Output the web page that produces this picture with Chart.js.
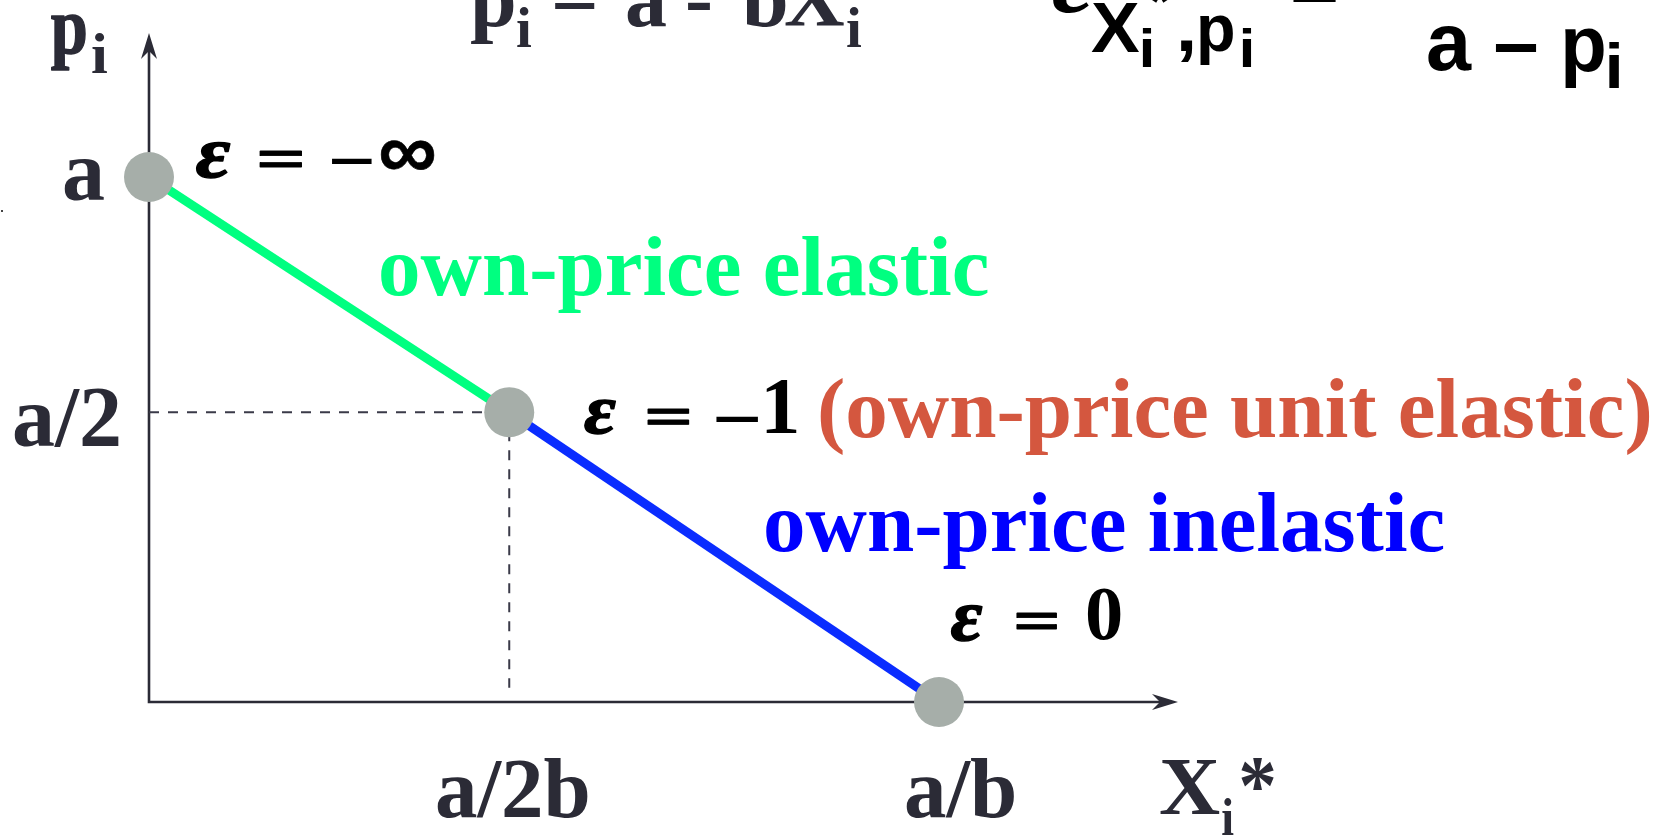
<!DOCTYPE html>
<html>
<head>
<meta charset="utf-8">
<script src="https://cdn.jsdelivr.net/npm/chart.js@4.4.1/dist/chart.umd.min.js"></script>
<style>
html,body{margin:0;padding:0;background:#ffffff;overflow:hidden}
#wrap{width:1669px;height:836px;position:relative}
canvas{display:block}
</style>
</head>
<body>
<div id="wrap"><canvas id="c" width="1669" height="836"></canvas></div>
<script>
// ---------------- data (a/b = 1, a = 1) ----------------
const elasticX   = [0, 0.456];        // elastic segment: from p = a down to the unit-elastic point
const elasticY   = [1, 0.552];
const inelasticX = [0.456, 1];        // inelastic segment: unit-elastic point down to X = a/b
const inelasticY = [0.552, 0];
const pointX     = [0, 0.456, 1];     // marked points
const pointY     = [1, 0.552, 0];
const guideHX    = [0, 0.456];        // dashed guide to the price axis
const guideHY    = [0.552, 0.552];
const guideVX    = [0.456, 0.456];    // dashed guide to the quantity axis
const guideVY    = [0.552, 0.027];
const xTickValues = [0.456, 1];
const xTickLabels = ['a/2b', 'a/b'];
const yTickValues = [1, 0.552];
const yTickLabels = ['a', 'a/2'];
const xAxisMax = 1.3025;
const yAxisMax = 1.2743;

const zip = (xs, ys) => xs.map((x, i) => ({x: x, y: ys[i]}));

// ---------------- styles ----------------
const INK = '#2b2b36';
const GREEN = '#00FF80';
const BLUE_LINE = '#0A2CFF';
const BLUE_TEXT = '#0000FF';
const ORANGE = '#D4573F';
const DOT = '#A6AEA9';

const serifB  = s => `bold ${s}px "Liberation Serif"`;
const serifBI = s => `bold italic ${s}px "Liberation Serif"`;
const sansB   = s => `bold ${s}px "Liberation Sans"`;

// text helpers (all real text)
function inkText(ctx, s, x, baseline, fontStr, color, align, sx) {
  sx = sx || 1;
  ctx.save();
  ctx.font = fontStr;
  ctx.textAlign = 'left';
  ctx.textBaseline = 'alphabetic';
  const m = ctx.measureText(s);
  const iw = (m.actualBoundingBoxLeft + m.actualBoundingBoxRight) * sx;
  let left = x;
  if (align === 'right') left = x - iw;
  else if (align === 'center') left = x - iw / 2;
  ctx.translate(left + m.actualBoundingBoxLeft * sx, baseline);
  ctx.scale(sx, 1);
  ctx.fillStyle = color;
  ctx.fillText(s, 0, 0);
  ctx.restore();
}
// fit the ink of a string into a box (optionally thickened by a stroke)
function boxText(ctx, s, left, top, w, h, fontFn, color, keepAspect, stroke) {
  stroke = stroke || 0;
  ctx.save();
  ctx.textAlign = 'left';
  ctx.textBaseline = 'alphabetic';
  ctx.font = fontFn(100);
  let m = ctx.measureText(s);
  const ih0 = m.actualBoundingBoxAscent + m.actualBoundingBoxDescent;
  const F = 100 * (h - stroke) / ih0;
  ctx.font = fontFn(F);
  m = ctx.measureText(s);
  const iw = m.actualBoundingBoxLeft + m.actualBoundingBoxRight;
  const sx = keepAspect ? 1 : (w - stroke) / iw;
  ctx.translate(left + stroke / 2 + m.actualBoundingBoxLeft * sx, top + stroke / 2 + m.actualBoundingBoxAscent);
  ctx.scale(sx, 1);
  ctx.fillStyle = color;
  ctx.fillText(s, 0, 0);
  if (stroke > 0) {
    ctx.strokeStyle = color;
    ctx.lineWidth = stroke / sx;
    ctx.lineJoin = 'round';
    ctx.strokeText(s, 0, 0);
  }
  ctx.restore();
}
// place ink bottom at a given y
function bottomText(ctx, s, left, bottom, fontStr, color) {
  ctx.save();
  ctx.font = fontStr;
  ctx.textAlign = 'left';
  ctx.textBaseline = 'alphabetic';
  const m = ctx.measureText(s);
  ctx.fillStyle = color;
  ctx.fillText(s, left + m.actualBoundingBoxLeft, bottom - m.actualBoundingBoxDescent);
  ctx.restore();
}

// ---------------- plugins ----------------
const axesPlugin = {
  id: 'axesArrows',
  beforeDatasetsDraw(chart) {
    const {ctx, scales: {x, y}} = chart;
    const x0 = x.getPixelForValue(0), y0 = y.getPixelForValue(0);
    const xe = x.getPixelForValue(x.max), ye = y.getPixelForValue(y.max);
    ctx.save();
    ctx.strokeStyle = INK;
    ctx.fillStyle = INK;
    ctx.lineWidth = 2.6;
    ctx.beginPath();
    ctx.moveTo(x0, y0); ctx.lineTo(xe - 12, y0);
    ctx.moveTo(x0, y0 + 1.3); ctx.lineTo(x0, ye + 12);
    ctx.stroke();
    // x arrow
    ctx.beginPath();
    ctx.moveTo(xe, y0);
    ctx.lineTo(xe - 26, y0 - 8);
    ctx.lineTo(xe - 18, y0);
    ctx.lineTo(xe - 26, y0 + 8);
    ctx.closePath(); ctx.fill();
    // y arrow
    ctx.beginPath();
    ctx.moveTo(x0, ye);
    ctx.lineTo(x0 - 8, ye + 26);
    ctx.lineTo(x0, ye + 18);
    ctx.lineTo(x0 + 8, ye + 26);
    ctx.closePath(); ctx.fill();
    ctx.restore();
  }
};

const labelsPlugin = {
  id: 'labels',
  afterDatasetsDraw(chart) {
    const {ctx, scales: {x, y}} = chart;
    const px = v => x.getPixelForValue(v);
    const py = v => y.getPixelForValue(v);

    // tick labels, anchored to the scales
    const yOff = [{dx: -45, dy: 23}, {dx: -30, dy: 34}];
    yTickValues.forEach((v, i) => {
      inkText(ctx, yTickLabels[i], px(0) + yOff[i].dx, py(v) + yOff[i].dy, serifB(86), INK, 'right');
    });
    const xOff = [{dx: 3}, {dx: 21}];
    xTickValues.forEach((v, i) => {
      inkText(ctx, xTickLabels[i], px(v) + xOff[i].dx, py(0) + 115, serifB(85), INK, 'center');
    });

    // axis titles
    boxText(ctx, 'p', px(0) - 98, 14, 35, 57, serifB, INK, false, 1.2);
    boxText(ctx, 'i', px(0) - 57, 33, 15, 39, serifB, INK);
    boxText(ctx, 'X', 1160, 760, 60, 55, serifB, INK);
    boxText(ctx, 'i', 1222, 798, 12, 37, serifB, INK);
    boxText(ctx, '*', 1241, 758, 33, 32, serifB, INK);

    // region labels
    inkText(ctx, 'own-price elastic', 381, 295, serifB(85), GREEN, 'left');
    inkText(ctx, 'own-price inelastic', 766, 551, serifB(85), BLUE_TEXT, 'left');
    inkText(ctx, '(own-price unit elastic)', 820, 437, serifB(85), ORANGE, 'left');

    // elasticity labels near the points
    const eA = {x: px(pointX[0]) + 46, y: py(pointY[0])};
    boxText(ctx, 'ε', eA.x, eA.y - 36, 36, 37, serifBI, '#000', false, 1.6);
    boxText(ctx, '=', eA.x + 63, eA.y - 27, 45, 18, sansB, '#000', false, 1.6);
    boxText(ctx, '−', eA.x + 137, eA.y - 19, 41, 6, sansB, '#000');
    boxText(ctx, '∞', eA.x + 185, eA.y - 37, 55, 31, sansB, '#000', false, 0.6);

    const eM = {x: px(pointX[1]) + 74, y: py(pointY[1]) + 21};
    boxText(ctx, 'ε', eM.x, eM.y - 34, 34, 35, serifBI, '#000', false, 1.6);
    boxText(ctx, '=', eM.x + 63, eM.y - 25, 43, 17, sansB, '#000', false, 1.6);
    boxText(ctx, '−', eM.x + 133, eM.y - 17, 43, 6, sansB, '#000');
    boxText(ctx, '1', eM.x + 183, eM.y - 53, 30, 53, serifB, '#000', true);

    const eZ = {x: px(pointX[2]) + 11, y: py(pointY[2]) - 62};
    boxText(ctx, 'ε', eZ.x, eZ.y - 36, 33, 37, serifBI, '#000', false, 1.6);
    boxText(ctx, '=', eZ.x + 65, eZ.y - 28, 43, 18, sansB, '#000', false, 1.6);
    boxText(ctx, '0', eZ.x + 137, eZ.y - 52, 36, 52, serifB, '#000', true);

    // headings cut by the top edge of the picture
    inkText(ctx, 'p', 471, 26, serifB(84), INK, 'left');
    inkText(ctx, 'i', 517, 47, serifB(57), INK, 'left');
    inkText(ctx, '=', 555, 26, serifB(84), INK, 'left');
    inkText(ctx, 'a', 627, 26, serifB(84), INK, 'left');
    inkText(ctx, '-', 688, 26, serifB(84), INK, 'left');
    inkText(ctx, 'b', 743, 26, serifB(84), INK, 'left');
    inkText(ctx, 'X', 785, 26, serifB(84), INK, 'left');
    inkText(ctx, 'i', 847, 47, serifB(57), INK, 'left');

    bottomText(ctx, 'ε', 1053, 13, serifBI(100), '#000');
    boxText(ctx, 'X', 1091, 3, 49, 49, sansB, '#000');
    bottomText(ctx, '*', 1150, 3, sansB(50), '#000');
    boxText(ctx, 'i', 1142, 28, 10, 39, sansB, '#000');
    boxText(ctx, ',', 1180, 40, 12, 22, sansB, '#000');
    boxText(ctx, 'p', 1200, 15, 33, 50, sansB, '#000');
    boxText(ctx, 'i', 1242, 28, 10, 39, sansB, '#000');
    bottomText(ctx, '=', 1293, 2, sansB(84), '#000');

    inkText(ctx, 'a –', 1428, 70, sansB(81), '#000', 'left');
    boxText(ctx, 'p', 1565, 28, 39, 60, sansB, '#000');
    boxText(ctx, 'i', 1609, 42, 11, 46, sansB, '#000');

    // small speck at the left edge
    ctx.save(); ctx.fillStyle = '#444'; ctx.fillRect(1, 210, 2, 2); ctx.restore();
  }
};

// ---------------- chart ----------------
const ctx = document.getElementById('c').getContext('2d');
new Chart(ctx, {
  type: 'scatter',
  data: {
    datasets: [
      { label: 'points', data: zip(pointX, pointY), showLine: false,
        pointRadius: 25, pointHoverRadius: 25, pointBackgroundColor: DOT, pointBorderWidth: 0,
        pointBorderColor: DOT, clip: false },
      { label: 'elastic', data: zip(elasticX, elasticY), showLine: true,
        borderColor: GREEN, borderWidth: 9, pointRadius: 0, clip: false, borderCapStyle: 'butt' },
      { label: 'inelastic', data: zip(inelasticX, inelasticY), showLine: true,
        borderColor: BLUE_LINE, borderWidth: 9, pointRadius: 0, clip: false, borderCapStyle: 'butt' },
      { label: 'guideH', data: zip(guideHX, guideHY), showLine: true,
        borderColor: '#3a3a48', borderWidth: 2, borderDash: [10, 9], pointRadius: 0, clip: false },
      { label: 'guideV', data: zip(guideVX, guideVY), showLine: true,
        borderColor: '#3a3a48', borderWidth: 2, borderDash: [10, 9], pointRadius: 0, clip: false }
    ]
  },
  options: {
    responsive: false,
    animation: false,
    devicePixelRatio: 1,
    layout: { padding: { left: 149, right: 491, top: 33, bottom: 134 } },
    scales: {
      x: { type: 'linear', min: 0, max: xAxisMax, display: false },
      y: { type: 'linear', min: 0, max: yAxisMax, display: false }
    },
    plugins: { legend: { display: false }, tooltip: { enabled: false } },
    events: []
  },
  plugins: [axesPlugin, labelsPlugin]
});
</script>
</body>
</html>
